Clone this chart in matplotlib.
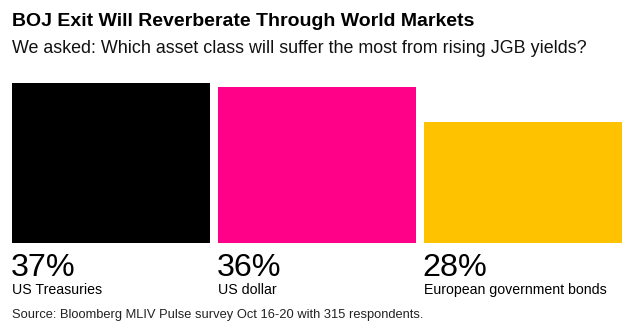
import matplotlib.pyplot as plt

# Survey results
categories = ["US Treasuries", "US dollar", "European government bonds"]
shares = [37, 36, 28]
colors = ["#000000", "#ff0088", "#ffc200"]

W, H = 636, 329
fig = plt.figure(figsize=(W / 100, H / 100), dpi=100)
fig.patch.set_facecolor("white")
plt.rcParams["font.family"] = ["Liberation Sans", "DejaVu Sans"]

# axes spanning the bar area (pixel layout)
left, right, bottom, top = 12, 622, 243, 83
ax = fig.add_axes([left / W, (H - bottom) / H, (right - left) / W, (bottom - top) / H])
bw = 198 / 206
xs = range(len(shares))
ax.bar(xs, shares, width=bw, align="edge", color=colors)
ax.set_xlim(0, len(shares) - 1 + bw)
ax.set_ylim(0, max(shares))
ax.axis("off")

for i, (cat, v) in enumerate(zip(categories, shares)):
    ax.annotate("{}%".format(v), xy=(i, 0), xytext=(-1, -23.5), textcoords="offset points",
                fontsize=23.3, va="baseline", ha="left", color="black")
    ax.annotate(cat, xy=(i, 0), xytext=(0, -36.5), textcoords="offset points",
                fontsize=10.2, va="baseline", ha="left", color="black")

fig.text(12 / W, 1 - 26 / H, "BOJ Exit Will Reverberate Through World Markets",
         fontsize=14, fontweight="bold", va="baseline", ha="left")
fig.text(12 / W, 1 - 53 / H, "We asked: Which asset class will suffer the most from rising JGB yields?",
         fontsize=12.9, va="baseline", ha="left", color="#111111")
fig.text(12 / W, 1 - 318 / H, "Source: Bloomberg MLIV Pulse survey Oct 16-20 with 315 respondents.",
         fontsize=9.3, va="baseline", ha="left", color="#222222")

plt.savefig("out.png", dpi=100)
